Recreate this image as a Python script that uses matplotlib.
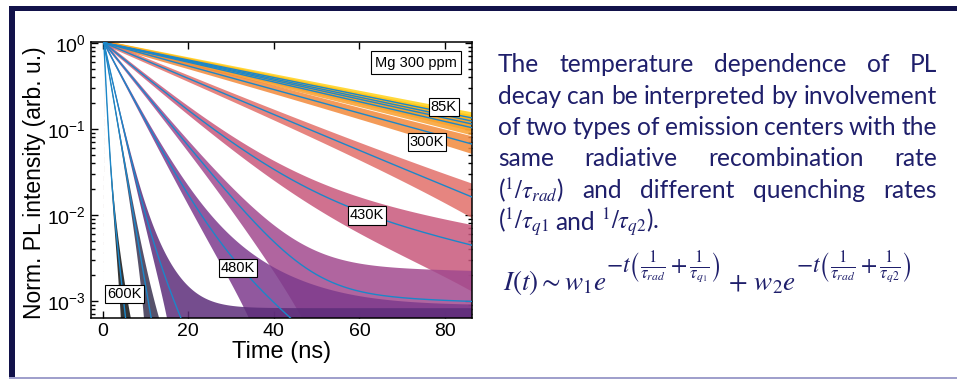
import numpy as np
import matplotlib
matplotlib.use("Agg")
import matplotlib.pyplot as plt
from matplotlib.patches import Rectangle

plt.rcParams['font.family'] = ['Liberation Sans', 'DejaVu Sans']
plt.rcParams['mathtext.fontset'] = 'stix'

W, H = 957, 379

# decay fits: I(t) = w1*exp(-t/tau1) + (1-w1)*exp(-t/tau2)
temps = ['85K', '150K', '200K', '250K', '300K', '350K', '430K', '450K', '480K', '520K', '560K', '600K']
w1 = [1.0, 1.0, 1.0, 1.0, 1.0, 0.99, 0.964, 0.9987, 0.97, 0.95, 1.0, 0.9]
tau1 = [42.7, 41.0, 39.5, 37.8, 31.7, 20.5, 10.3, 7.1, 4.5, 1.9, 1.5, 0.4]
tau2 = [42.7, 41.0, 39.5, 37.8, 31.7, 40.0, 40.0, 300.0, 11.0, 4.0, 1.5, 1.0]
# peak counts of each trace (sets the width of the noisy band) and its noise floor
peak_counts = [2500, 2500, 2500, 2500, 2500, 3000, 4000, 6000, 8000, 10000, 10000, 10000]
background = [2e-5, 2e-5, 2e-5, 2e-5, 2e-5, 2e-5, 2e-5, 2e-5, 3e-4, 3e-4, 2e-5, 2e-5]
t_peak = 0.3
colors = ['#ffd21a', '#ffc21a', '#fdb022', '#f9a030', '#f28a3c', '#e2706a',
          '#c8587c', '#a24a8e', '#7e3b8d', '#5d2e7a', '#3a3350', '#111111']

# boxed labels (temperature, time, intensity)
box_labels = [('85K', 79.7, 0.18), ('300K', 75.8, 0.0706), ('430K', 61.8, 0.0098),
              ('480K', 31.6, 0.00242), ('600K', 5.2, 0.0012)]

fit_color = '#1b87c9'
text_color = '#1f1f6b'
navy = '#12124a'

fig = plt.figure(figsize=(W / 100, H / 100), dpi=100)

# slide frame
fig.add_artist(Rectangle((9 / W, 1 - 11 / H), 1 - 9 / W, 5 / H, transform=fig.transFigure,
                         color=navy, lw=0))
fig.add_artist(Rectangle((9 / W, 1 - 377 / H), 6 / W, 371 / H, transform=fig.transFigure,
                         color=navy, lw=0))
fig.add_artist(Rectangle((9 / W, 1 - 378.5 / H), 1 - 9 / W, 1.5 / H, transform=fig.transFigure,
                         color='#a0a0cc', lw=0))

ax = fig.add_axes([91 / W, 1 - 318 / H, (472 - 91) / W, (318 - 42) / H])

t = np.arange(-3.0, 87.0, 0.05)
tt = np.clip(t - t_peak, 0, None)
after = t >= t_peak
for i in range(len(temps)):
    model = w1[i] * np.exp(-tt / tau1[i]) + (1 - w1[i]) * np.exp(-tt / tau2[i])
    sig = np.sqrt((model + background[i]) / peak_counts[i])
    hi = np.where(after, model + background[i] + 3.0 * sig, 1e-6)
    lo = np.where(after, np.clip(model + background[i] - 3.0 * sig, 1e-6, None), 1e-6)
    ax.fill_between(t, lo, hi, color=colors[i], lw=0, alpha=0.85, zorder=2)

for i in range(len(temps)):
    tf = t[after]
    fit = w1[i] * np.exp(-(tf - t_peak) / tau1[i]) + (1 - w1[i]) * np.exp(-(tf - t_peak) / tau2[i])
    ax.plot(tf, fit, color=fit_color, lw=1.0, zorder=3)

ax.set_yscale('log')
ax.set_xlim(-2.7, 86.3)
ax.set_ylim(6.3e-4, 1.02)
ax.set_xticks([0, 20, 40, 60, 80])
ax.tick_params(which='both', direction='in', top=True, right=True, labelsize=14, width=1)
ax.tick_params(which='major', length=5)
ax.tick_params(which='minor', length=3)
for s in ax.spines.values():
    s.set_linewidth(1.1)
ax.set_xlabel('Time (ns)', fontsize=17)
ax.set_ylabel('Norm. PL intensity (arb. u.)', fontsize=16.5)
ax.xaxis.set_label_coords(0.5, -0.085)
ax.yaxis.set_label_coords(-0.118, 0.49)

ax.text(73.2, 0.585, 'Mg 300 ppm', fontsize=10.5, ha='center', va='center', zorder=5,
        bbox=dict(boxstyle='square,pad=0.3', fc='white', ec='black', lw=0.8))
for lab, tx, ty in box_labels:
    ax.text(tx, ty, lab, fontsize=10.5, ha='center', va='center', zorder=5,
            bbox=dict(boxstyle='square,pad=0.15', fc='white', ec='black', lw=0.8))

# justified paragraph on the right
lines = [
    "The temperature dependence of PL",
    "decay can be interpreted by involvement",
    "of two types of emission centers with the",
    "same radiative recombination rate",
    r"(${}^{1}/\tau_{rad}$) and different quenching rates",
    r"(${}^{1}/\tau_{q1}$ and ${}^{1}/\tau_{q2}$).",
]
baselines = [72, 103.5, 135, 166.5, 198, 229.5]
x_left, x_right = 498, 937
para_font = ['Lato', 'DejaVu Sans']

fig.canvas.draw()
r = fig.canvas.get_renderer()


def width(s, size, family=para_font):
    tx = fig.text(0, 0, s, fontsize=size, family=family)
    w = tx.get_window_extent(r).width
    tx.remove()
    return w


size = 18 * (x_right - x_left) / width(lines[1], 18)
space = width('a a', size) - width('aa', size)
for k, line in enumerate(lines):
    words = line.split(' ')
    ws = [width(wd, size) for wd in words]
    if k == len(lines) - 1:
        gap = space
    else:
        gap = (x_right - x_left - sum(ws)) / (len(words) - 1)
    x = x_left
    for wd, ww in zip(words, ws):
        fig.text(x / W, 1 - baselines[k] / H, wd, fontsize=size, family=para_font,
                 color=text_color, va='baseline', ha='left')
        x += ww + gap

# formula, built from base parts and raised exponents
parts = [
    (r"$I(t)\sim w_1 e$", 19.5, 'base'),
    (r"$-t\left(\frac{1}{\tau_{rad}}+\frac{1}{\tau_{q_1}}\right)$", 17, 'exp'),
    (r"$\,+\,w_2 e$", 19.5, 'base'),
    (r"$-t\left(\frac{1}{\tau_{rad}}+\frac{1}{\tau_{q2}}\right)$", 17, 'exp'),
]
x = 503
for s, fs, kind in parts:
    if kind == 'base':
        fig.text(x / W, 1 - 290 / H, s, fontsize=fs, color=text_color, va='baseline', ha='left')
    else:
        fig.text(x / W, 1 - 268 / H, s, fontsize=fs, color=text_color, va='center', ha='left')
    x += width(s, fs, None)

fig.savefig('out.png', dpi=100)
